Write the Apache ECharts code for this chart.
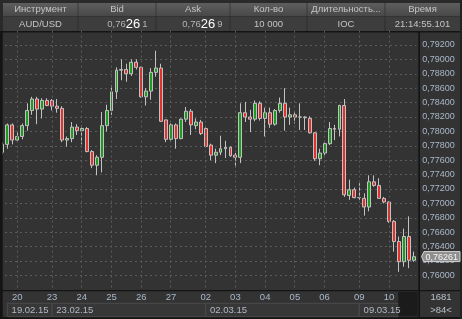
<!DOCTYPE html>
<html><head><meta charset="utf-8">
<script src="https://cdn.jsdelivr.net/npm/echarts@6/dist/echarts.min.js"></script>
<style>html,body{margin:0;padding:0;background:#262626;}#c{width:462px;height:319px;}</style>
</head><body><div id="c"></div>
<script>
// ---------- data ----------
const dayLabels   = ['19.02.15','20.02.15','23.02.15','24.02.15','25.02.15','26.02.15','27.02.15','02.03.15','03.03.15','04.03.15','05.03.15','06.03.15','09.03.15','10.03.15'];
const barsPerDay  = [3,7,6,6,6,6,7,6,6,6,6,7,6,6];
const firstShown  = [false,true,true,true,true,true,true,true,true,true,true,true,true,true];
const weekLabels  = ['19.02.15','23.02.15','02.03.15','09.03.15'];
const opens  = [0.7771,0.7782,0.7809,0.7788,0.7793,0.7808,0.7829,0.7845,0.7831,0.7843,0.7843,0.7835,0.7832,0.7788,0.7790,0.7806,0.7801,0.7804,0.7772,0.7753,0.7764,0.7808,0.7829,0.7855,0.7885,0.7886,0.7880,0.7896,0.7889,0.7848,0.7856,0.7882,0.7888,0.7816,0.7789,0.7809,0.7790,0.7817,0.7828,0.7808,0.7813,0.7804,0.7781,0.7767,0.7771,0.7776,0.7778,0.7767,0.7764,0.7826,0.7820,0.7817,0.7839,0.7818,0.7826,0.7810,0.7829,0.7839,0.7820,0.7823,0.7820,0.7820,0.7818,0.7798,0.7762,0.7770,0.7783,0.7804,0.7803,0.7836,0.7711,0.7719,0.7708,0.7707,0.7695,0.7730,0.7725,0.7707,0.7702,0.7675,0.7647,0.7619,0.7654,0.7621];
const closes = [0.7782,0.7809,0.7788,0.7793,0.7808,0.7829,0.7845,0.7831,0.7843,0.7836,0.7835,0.7832,0.7788,0.7790,0.7806,0.7801,0.7804,0.7772,0.7753,0.7764,0.7808,0.7829,0.7855,0.7885,0.7886,0.7880,0.7896,0.7889,0.7848,0.7856,0.7882,0.7888,0.7814,0.7789,0.7809,0.7790,0.7817,0.7828,0.7809,0.7813,0.7797,0.7779,0.7767,0.7771,0.7776,0.7778,0.7766,0.7764,0.7826,0.7820,0.7817,0.7839,0.7818,0.7826,0.7810,0.7829,0.7839,0.7820,0.7823,0.7820,0.7820,0.7819,0.7798,0.7762,0.7770,0.7783,0.7804,0.7803,0.7836,0.7712,0.7719,0.7708,0.7708,0.7695,0.7730,0.7725,0.7707,0.7702,0.7675,0.7647,0.7619,0.7654,0.7621,0.7626];
const lows   = [0.7768,0.7776,0.7782,0.7785,0.7789,0.7801,0.7823,0.7810,0.7818,0.7835,0.7829,0.7826,0.7785,0.7779,0.7785,0.7795,0.7782,0.7771,0.7749,0.7739,0.7743,0.7800,0.7823,0.7845,0.7871,0.7869,0.7877,0.7886,0.7847,0.7836,0.7844,0.7876,0.7813,0.7785,0.7787,0.7776,0.7789,0.7813,0.7795,0.7803,0.7795,0.7778,0.7760,0.7756,0.7767,0.7763,0.7765,0.7750,0.7756,0.7813,0.7799,0.7814,0.7815,0.7793,0.7805,0.7808,0.7826,0.7801,0.7809,0.7811,0.7802,0.7802,0.7797,0.7759,0.7753,0.7767,0.7781,0.7788,0.7793,0.7709,0.7705,0.7707,0.7705,0.7683,0.7689,0.7723,0.7707,0.7700,0.7673,0.7633,0.7605,0.7612,0.7610,0.7619];
const highs  = [0.7785,0.7811,0.7811,0.7799,0.7811,0.7839,0.7848,0.7848,0.7846,0.7846,0.7845,0.7845,0.7835,0.7793,0.7813,0.7810,0.7808,0.7806,0.7774,0.7767,0.7827,0.7837,0.7864,0.7889,0.7900,0.7894,0.7900,0.7900,0.7890,0.7860,0.7888,0.7912,0.7894,0.7816,0.7811,0.7811,0.7818,0.7834,0.7831,0.7818,0.7816,0.7807,0.7783,0.7776,0.7794,0.7787,0.7779,0.7770,0.7839,0.7841,0.7830,0.7843,0.7842,0.7833,0.7833,0.7831,0.7847,0.7860,0.7833,0.7828,0.7839,0.7821,0.7821,0.7799,0.7776,0.7785,0.7813,0.7809,0.7837,0.7845,0.7733,0.7722,0.7728,0.7714,0.7739,0.7739,0.7735,0.7709,0.7703,0.7677,0.7654,0.7665,0.7682,0.7633];
const yMin = 0.758, yMax = 0.794, yStep = 0.002;
const currentPrice = 0.76261;
const headerTitles = ['Инструмент','Bid','Ask','Кол-во','Длительность...','Время'];
const instrument = 'AUD/USD';
const bidParts = ['0,76','26','1'];
const askParts = ['0,76','26','9'];
const quantity = '10 000';
const duration = 'IOC';
const timeText = '21:14:55.101';
const barCountText = '1681';
const visibleText = '>84<';

// ---------- build ----------
const categories = [], dayStart = [], dayOf = [];
dayLabels.forEach((d, di) => {
  for (let j = 0; j < barsPerDay[di]; j++) {
    categories.push(d + ' #' + (j + 1));
    dayStart.push(j === 0 && firstShown[di]);
    dayOf.push(d);
  }
});
const candles = opens.map((o, i) => [o, closes[i], lows[i], highs[i]]);

const FONT = 'Liberation Sans, Arial, sans-serif';
const GRID_TOP = 30.6, GRID_H = 259.2, GRID_W = 416.3;
const GRID_COLOR = '#5c5c5c';
const chart = echarts.init(document.getElementById('c'), null, {renderer: 'canvas'});

chart.setOption({
  animation: false,
  backgroundColor: '#333333',
  grid: {left: 0, top: GRID_TOP, width: GRID_W, height: GRID_H, containLabel: false, outerBoundsMode: 'none'},
  xAxis: {
    type: 'category', data: categories, boundaryGap: true,
    axisLine: {show: false},
    axisTick: {show: false},
    splitLine: {show: false},
    axisLabel: {show: true, interval: (i) => dayStart[i], margin: 3,
      formatter: (v) => v.slice(0, 2), color: '#a9b8c9', fontSize: 9.5, fontFamily: FONT}
  },
  yAxis: {
    type: 'value', position: 'right', min: yMin, max: yMax, interval: yStep,
    axisLine: {show: false}, axisTick: {show: false},
    splitLine: {show: true, lineStyle: {color: GRID_COLOR, type: [2, 3], width: 1}},
    axisLabel: {margin: 6, color: '#a9b8c9', fontSize: 9, fontFamily: FONT,
      showMinLabel: false, showMaxLabel: false,
      formatter: (v) => v.toFixed(5).replace('.', ',')}
  },
  series: [{
    type: 'candlestick', data: candles, barWidth: 3.4, z: 2,
    itemStyle: {color: '#1c9c1c', color0: '#e2322d', borderColor: '#c2c2c2', borderColor0: '#c2c2c2', borderColorDoji: '#c2c2c2', borderWidth: 1},
    emphasis: {disabled: true}
  }]
});

// ---------- day separators, frame, header and week row (positions from the chart's scales) ----------
const g = [];
const Z = 100;
function rect(x, y, w, h, fill, extra) { g.push(Object.assign({type: 'rect', z: Z, silent: true, shape: {x, y, width: w, height: h}, style: {fill}}, extra || {})); }
function text(x, y, t, style) { g.push({type: 'text', z: Z + 2, silent: true, x, y, style: Object.assign({text: t, fontFamily: FONT, verticalAlign: 'middle'}, style)}); }

// header frame
rect(0, 0, 462, 31.5, '#2a2a2a');
rect(3, 3, 457, 13.2, new echarts.graphic.LinearGradient(0, 0, 0, 1, [{offset: 0, color: '#5e5e5e'}, {offset: 1, color: '#484848'}]));
rect(3, 16.8, 457, 14.2, '#3d3d3d');
const cols = [3, 78, 156, 230, 307, 385, 460];
for (let k = 1; k < cols.length - 1; k++) {
  rect(cols[k] - 0.5, 3, 1, 13.2, '#383838');
  rect(cols[k] - 0.5, 16.8, 1, 14.2, '#2e2e2e');
}
headerTitles.forEach((t, k) => text((cols[k] + cols[k + 1]) / 2, 9.8, t, {fill: '#c4c4c4', fontSize: 9.5, align: 'center'}));
text((cols[0] + cols[1]) / 2, 24, instrument, {fill: '#c4c4c4', fontSize: 9.5, align: 'center'});
const rich = {s: {fill: '#b4b4b4', fontSize: 9.5, fontFamily: FONT}, b: {fill: '#ffffff', fontSize: 13, fontFamily: FONT, padding: [0, 2, 0, 0]}};
text(cols[2] - 8.5, 24, '{s|' + bidParts[0] + '}{b|' + bidParts[1] + '}{s|' + bidParts[2] + '}', {align: 'right', rich});
text(cols[3] - 7.5, 24, '{s|' + askParts[0] + '}{b|' + askParts[1] + '}{s|' + askParts[2] + '}', {align: 'right', rich});
text((cols[3] + cols[4]) / 2, 24, quantity, {fill: '#c4c4c4', fontSize: 9.5, align: 'center'});
text((cols[4] + cols[5]) / 2, 24, duration, {fill: '#c4c4c4', fontSize: 9.5, align: 'center'});
text((cols[5] + cols[6]) / 2, 24, timeText, {fill: '#c4c4c4', fontSize: 9.5, align: 'center'});

// vertical day separators (crisp 1px dashed)
const yTop = chart.convertToPixel({yAxisIndex: 0}, yMax);
const yBot = chart.convertToPixel({yAxisIndex: 0}, yMin);
categories.forEach((c, i) => {
  if (!dayStart[i]) return;
  const px = Math.round(chart.convertToPixel({xAxisIndex: 0}, c) - 0.5) + 0.5;
  g.push({type: 'line', z: 150, silent: true, shape: {x1: px, y1: yTop, x2: px, y2: yBot},
    style: {stroke: GRID_COLOR, lineWidth: 1, lineDash: [2, 3]}});
});

// chart frame lines
rect(0, 31, 462, 1.5, '#141414');
rect(0, 31, 2.7, 288, '#141414');
rect(418.3, 31, 1.7, 288, '#141414');
rect(0, 290, 462, 1.3, '#141414');
rect(0, 317, 462, 2, '#141414');
rect(460, 0, 2, 319, '#222222');

// week cells
const weekStartIdx = weekLabels.map(w => dayOf.indexOf(w));
const BLACK_X = 398.3;
weekStartIdx.forEach((idx, k) => {
  let x0 = chart.convertToPixel({xAxisIndex: 0}, categories[idx]);
  x0 = Math.max(x0, 7.3);
  let x1 = k + 1 < weekStartIdx.length ? chart.convertToPixel({xAxisIndex: 0}, categories[weekStartIdx[k + 1]]) : BLACK_X;
  rect(x0, 303.3, x1 - x0, 13.4, '#373737', {style: {fill: '#373737', stroke: '#4c4c4c', lineWidth: 1}});
  text(x0 + 4.3, 310.2, weekLabels[k], {fill: '#b2bac4', fontSize: 9.5, align: 'left'});
});
rect(BLACK_X, 291.7, 19.4, 24.5, '#1b1b1b');
text(441, 297.5, barCountText, {fill: '#b8c0c8', fontSize: 9.5, align: 'center'});
text(441, 310.2, visibleText, {fill: '#b8c0c8', fontSize: 9.5, align: 'center'});

// current price tag
const py = chart.convertToPixel({yAxisIndex: 0}, currentPrice);
g.push({type: 'polygon', z: Z, silent: true, shape: {points: [[421.5, py], [424, py - 5], [460, py - 5], [460, py + 5], [424, py + 5]]}, style: {fill: '#8e8e8e', stroke: '#d4d4d4', lineWidth: 1}});
text(425.5, py + 0.5, currentPrice.toFixed(5).replace('.', ','), {fill: '#f4f4f4', fontSize: 9, align: 'left'});

chart.setOption({graphic: g});
</script></body></html>
